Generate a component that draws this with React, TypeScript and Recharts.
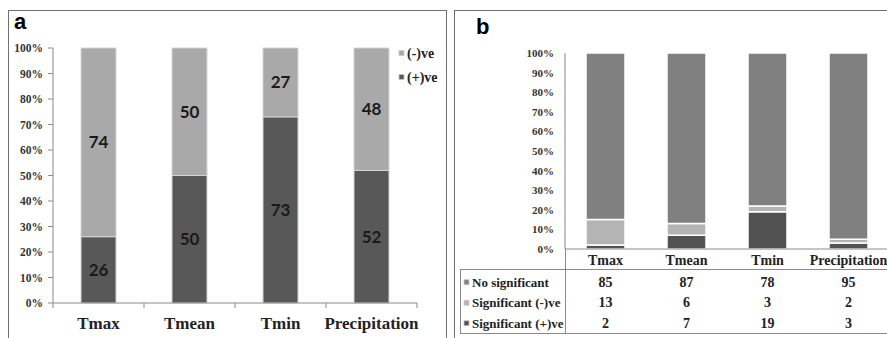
import { BarChart, Bar, XAxis, YAxis, Legend, LabelList } from 'recharts'

const categories = ['Tmax', 'Tmean', 'Tmin', 'Precipitation']

// (a) direction of trend, % of stations
const positiveTrend = [26, 50, 73, 52]
const negativeTrend = [74, 50, 27, 48]

// (b) significance of trend, % of stations
const noSignificant = [85, 87, 78, 95]
const significantNeg = [13, 6, 3, 2]
const significantPos = [2, 7, 19, 3]

const percentTicks = [0, 10, 20, 30, 40, 50, 60, 70, 80, 90, 100]

const trendOrder = ['(-)ve', '(+)ve']
const signifOrder = ['No significant', 'Significant (-)ve', 'Significant (+)ve']

const trendData = categories.map((name, i) => ({
  name,
  pos: positiveTrend[i],
  neg: negativeTrend[i],
}))

const signifData = categories.map((name, i) => ({
  name,
  sigPos: significantPos[i],
  sigNeg: significantNeg[i],
  none: noSignificant[i],
}))

const SERIF = "'Liberation Serif', 'Times New Roman', serif"
const SANS = "'Liberation Sans', Arial, sans-serif"
const AXIS = '#8a8a8a'
const FRAME = '#707070'

const A_LIGHT = '#a9a9a9'
const A_DARK = '#585858'
const B_NONE = '#808080'
const B_NEG = '#b4b4b4'
const B_POS = '#525252'

// category labels with tick marks on the band edges
function TrendTick({ x, y, payload, index, visibleTicksCount }: any) {
  const half = payload.offset ?? 0
  const last = index === visibleTicksCount - 1
  return (
    <g>
      <line x1={x - half} x2={x - half} y1={y} y2={y + 5} stroke={AXIS} />
      {last && <line x1={x + half} x2={x + half} y1={y} y2={y + 5} stroke={AXIS} />}
      <text
        x={x}
        y={y + 20}
        textAnchor="middle"
        dominantBaseline="central"
        fontFamily={SERIF}
        fontWeight="bold"
        fontSize={17}
        fill="#222"
      >
        {payload.value}
      </text>
    </g>
  )
}

// category name plus the data-table column under each bar
function TableTick({ x, y, payload, index }: any) {
  const column = [noSignificant[index], significantNeg[index], significantPos[index]]
  return (
    <g fontFamily={SERIF} fontWeight="bold" fill="#222" textAnchor="middle">
      <text x={x} y={y + 11} dominantBaseline="central" fontSize={14}>
        {payload.value}
      </text>
      {column.map((v, r) => (
        <text key={r} x={x} y={y + 33 + r * 20.5} dominantBaseline="central" fontSize={14}>
          {v}
        </text>
      ))}
    </g>
  )
}

function PercentTick({ x, y, payload, size }: any) {
  return (
    <text
      x={x}
      y={y}
      textAnchor="end"
      dominantBaseline="central"
      fontFamily={SERIF}
      fontWeight="bold"
      fontSize={size}
      fill="#333"
    >
      {`${payload.value}%`}
    </text>
  )
}

function makeLegend(order: string[], rowHeight: number, fontSize: number, width: number) {
  return ({ payload }: any) => {
    const items = [...(payload ?? [])].sort(
      (p: any, q: any) => order.indexOf(p.value) - order.indexOf(q.value)
    )
    return (
      <svg width={width} height={rowHeight * items.length} style={{ display: 'block', overflow: 'visible' }}>
        {items.map((item: any, r: number) => {
          const cy = r * rowHeight + rowHeight / 2
          return (
            <g key={item.value}>
              <rect x={1} y={cy - 2.5} width={5} height={5} fill={item.color} stroke="#c8c8c8" strokeWidth={0.8} />
              <text
                x={9}
                y={cy}
                dominantBaseline="central"
                fontFamily={SERIF}
                fontWeight="bold"
                fontSize={fontSize}
                fill="#222"
              >
                {item.value}
              </text>
            </g>
          )
        })}
      </svg>
    )
  }
}

const barLabel = { fontFamily: 'Lato, "Open Sans", sans-serif', fontWeight: 700, fontSize: 17, fill: '#1a1a1a' }

export default function App() {
  return (
    <div
      style={{
        position: 'absolute',
        left: 0,
        top: 0,
        width: 887,
        height: 338,
        overflow: 'hidden',
        background: '#fff',
      }}
    >
      {/* panel frames */}
      <div
        style={{
          position: 'absolute',
          left: 8,
          top: 10,
          width: 437,
          height: 340,
          borderLeft: `1px solid ${FRAME}`,
          borderTop: `1px solid ${FRAME}`,
          borderRight: `1px solid ${FRAME}`,
        }}
      />
      <div
        style={{
          position: 'absolute',
          left: 454,
          top: 10,
          width: 500,
          height: 340,
          borderLeft: `1px solid ${FRAME}`,
          borderTop: `1px solid ${FRAME}`,
        }}
      />
      {/* data table grid under panel b */}
      <div style={{ position: 'absolute', left: 460, top: 269, width: 440, borderTop: `1px solid ${AXIS}` }} />
      <div style={{ position: 'absolute', left: 460, top: 333, width: 440, borderTop: `1px solid ${AXIS}` }} />
      <div style={{ position: 'absolute', left: 460, top: 269, height: 64, borderLeft: `1px solid ${AXIS}` }} />
      <div style={{ position: 'absolute', left: 565, top: 249, height: 84, borderLeft: `1px solid ${AXIS}` }} />

      <div style={{ position: 'absolute', left: 14, top: 11, fontFamily: SANS, fontWeight: 'bold', fontSize: 22, lineHeight: '21px' }}>
        a
      </div>
      <div style={{ position: 'absolute', left: 476, top: 16, fontFamily: SANS, fontWeight: 'bold', fontSize: 22, lineHeight: '21px' }}>
        b
      </div>

      <div style={{ position: 'absolute', left: 0, top: 0 }}>
        <BarChart width={440} height={338} data={trendData} margin={{ top: 48, right: 23, bottom: 0, left: 0 }}>
          <XAxis
            dataKey="name"
            height={35}
            stroke={AXIS}
            tickLine={false}
            tickSize={0}
            tickMargin={0}
            tick={<TrendTick />}
            interval={0}
          />
          <YAxis
            width={53}
            domain={[0, 100]}
            ticks={percentTicks}
            stroke={AXIS}
            tickSize={5}
            tickMargin={5}
            tick={<PercentTick size={11.5} />}
            interval={0}
          />
          <Legend
            layout="vertical"
            align="center"
            verticalAlign="middle"
            wrapperStyle={{ left: 398, top: 41 }}
            content={makeLegend(trendOrder, 24, 14, 45)}
          />
          <Bar dataKey="pos" name="(+)ve" stackId="a" fill={A_DARK} stroke="#d4d4d4" barSize={35} isAnimationActive={false}>
            <LabelList dataKey="pos" position="center" style={barLabel} />
          </Bar>
          <Bar dataKey="neg" name="(-)ve" stackId="a" fill={A_LIGHT} stroke="#d4d4d4" barSize={35} isAnimationActive={false}>
            <LabelList dataKey="neg" position="center" style={barLabel} />
          </Bar>
        </BarChart>
      </div>

      <div style={{ position: 'absolute', left: 454, top: 0 }}>
        <BarChart width={440} height={338} data={signifData} margin={{ top: 53, right: 5, bottom: 0, left: 0 }}>
          <XAxis
            dataKey="name"
            height={89}
            stroke={AXIS}
            tickLine={false}
            tickSize={0}
            tickMargin={0}
            tick={<TableTick />}
            interval={0}
          />
          <YAxis
            width={111}
            domain={[0, 100]}
            ticks={percentTicks}
            stroke={AXIS}
            tickLine={false}
            tickSize={0}
            tickMargin={11}
            tick={<PercentTick size={11} />}
            interval={0}
          />
          <Legend
            layout="vertical"
            align="center"
            verticalAlign="middle"
            wrapperStyle={{ left: 9, top: 272 }}
            content={makeLegend(signifOrder, 20.5, 13, 100)}
          />
          <Bar dataKey="sigPos" name="Significant (+)ve" stackId="b" fill={B_POS} stroke="#fff" strokeWidth={1.5} barSize={39} isAnimationActive={false} />
          <Bar dataKey="sigNeg" name="Significant (-)ve" stackId="b" fill={B_NEG} stroke="#fff" strokeWidth={1.5} barSize={39} isAnimationActive={false} />
          <Bar dataKey="none" name="No significant" stackId="b" fill={B_NONE} stroke="#fff" strokeWidth={1.5} barSize={39} isAnimationActive={false} />
        </BarChart>
      </div>
    </div>
  )
}
